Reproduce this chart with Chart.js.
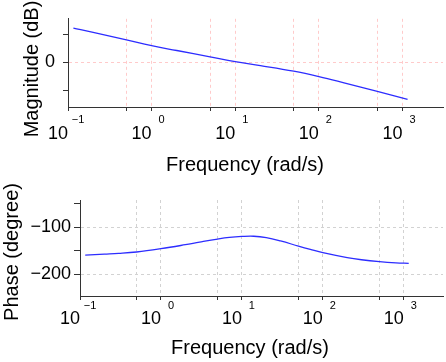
<!DOCTYPE html>
<html>
<head>
<meta charset="utf-8">
<script src="https://cdn.jsdelivr.net/npm/chart.js@4.4.1/dist/chart.umd.min.js"></script>
<style>
  body { margin: 0; background: #fff; }
  #wrap { position: relative; width: 446px; height: 362px; }
  canvas { position: absolute; left: 0; }
</style>
</head>
<body>
<div id="wrap">
  <canvas id="magChart" width="446" height="181" style="top:0"></canvas>
  <canvas id="phaseChart" width="446" height="181" style="top:181px"></canvas>
</div>
<script>
// valores
const magFreq = [0.116, 0.2, 0.5, 1, 2, 5, 10, 20, 50, 100, 200, 500, 1150];
const magDb = [30.7, 26.9, 20.1, 14.9, 10.6, 4.9, 0.6, -2.9, -7.9, -12.7, -18.3, -26, -33.2];

const phaseFreq = [0.116, 0.2, 0.3, 0.5, 1, 2, 3, 5, 7, 10, 14, 20, 30, 50, 70, 100, 200, 300, 500, 800, 1150];
const phaseDeg = [-159, -157, -155.5, -152.5, -145.5, -137, -131.5, -125, -121.5, -119.5, -119, -122, -129, -140, -147, -154, -164.5, -169, -173, -175.5, -176.5];

// marcas dos eixos
const freqTicks = [0.1, 0.5, 1, 5, 10, 50, 100, 500, 1000];
const decadeExps = [-1, 0, 1, 2, 3];
const magTicks = [-25, 0, 25];
const magLabels = ['', '0', ''];
const phaseTicks = [-200, -150, -100, -50];
const phaseLabels = ['\u2212200', '', '\u2212100', ''];

const FONT = "'Liberation Sans', Arial, Helvetica, sans-serif";

// plugin que desenha os rótulos 10^n e os títulos dos eixos
const bodeText = {
    id: 'bodeText',
    afterDraw(chart, args, opts) {
        const ctx = chart.ctx;
        const xs = chart.scales.x;
        ctx.save();
        ctx.fillStyle = '#000';
        ctx.textBaseline = 'middle';
        decadeExps.forEach(e => {
            const px = xs.getPixelForValue(Math.pow(10, e));
            ctx.font = '18px ' + FONT;
            ctx.textAlign = 'right';
            ctx.fillText('10', px, opts.baseY);
            ctx.font = '11px ' + FONT;
            ctx.textAlign = 'center';
            ctx.fillText(String(e).replace('-', '\u2212'), px + 10, opts.supY);
        });
        ctx.font = '20px ' + FONT;
        ctx.textAlign = 'center';
        ctx.fillText('Frequency (rad/s)', opts.xTitle[0], opts.xTitle[1]);
        ctx.translate(opts.yTitle[0], opts.yTitle[1]);
        ctx.rotate(-Math.PI / 2);
        ctx.fillText(opts.yTitle[2], 0, 0);
        ctx.restore();
    }
};

function makeBode(canvasId, freq, values, cfg) {
    const ctx = document.getElementById(canvasId).getContext('2d');
    return new Chart(ctx, {
        type: 'line',
        data: {
            datasets: [{
                data: freq.map((f, i) => ({ x: f, y: values[i] })),
                borderColor: 'rgb(45, 45, 255)',
                borderWidth: 1.3,
                pointRadius: 0,
                fill: false,
                tension: 0.4
            }]
        },
        options: {
            responsive: false,
            animation: false,
            devicePixelRatio: 1,
            layout: { padding: { top: cfg.padTop, right: 3, left: 0, bottom: 0 } },
            plugins: {
                legend: { display: false },
                tooltip: { enabled: false },
                bodeText: cfg.text
            },
            scales: {
                x: {
                    type: 'logarithmic',
                    min: 0.1,
                    max: 3050,
                    afterBuildTicks: s => { s.ticks = freqTicks.map(v => ({ value: v })); },
                    afterFit: s => { s.height = cfg.xHeight; },
                    ticks: { display: false },
                    grid: {
                        color: cfg.gridColor,
                        lineWidth: 1,
                        tickLength: 4,
                        tickColor: '#333',
                        tickBorderDash: [],
                        borderDash: [3, 3]
                    },
                    border: { color: '#333', width: 1, dash: [3, 3] }
                },
                y: {
                    min: cfg.yMin,
                    max: cfg.yMax,
                    afterBuildTicks: s => { s.ticks = cfg.yTicks.map(v => ({ value: v })); },
                    afterFit: s => { s.width = cfg.yWidth; },
                    ticks: {
                        color: '#000',
                        padding: cfg.yPad,
                        font: { family: FONT, size: 18 },
                        callback: (v, i) => cfg.yLabels[i]
                    },
                    grid: {
                        color: c => (cfg.yLabels[c.index] ? cfg.gridColor : 'rgba(0,0,0,0)'),
                        lineWidth: 1,
                        tickLength: cfg.yTickLen,
                        tickColor: '#333',
                        tickBorderDash: [],
                        borderDash: [3, 3]
                    },
                    border: { color: '#333', width: 1, dash: [3, 3] }
                }
            }
        },
        plugins: [bodeText]
    });
}

document.addEventListener('DOMContentLoaded', () => {
    makeBode('magChart', magFreq, magDb, {
        padTop: 14, xHeight: 74, yWidth: 68,
        yMin: -40, yMax: 39, yTicks: magTicks, yLabels: magLabels,
        yPad: 8, yTickLen: 5,
        gridColor: '#ffcaca',
        text: { baseY: 134, supY: 120, xTitle: [245, 165], yTitle: [32, 69, 'Magnitude (dB)'] }
    });
    makeBode('phaseChart', phaseFreq, phaseDeg, {
        padTop: 19, xHeight: 66, yWidth: 80,
        yMin: -246, yMax: -42, yTicks: phaseTicks, yLabels: phaseLabels,
        yPad: 3, yTickLen: 6,
        gridColor: '#d2d2d2',
        text: { baseY: 138, supY: 125, xTitle: [250, 167], yTitle: [12, 71, 'Phase (degree)'] }
    });
});
</script>
</body>
</html>
